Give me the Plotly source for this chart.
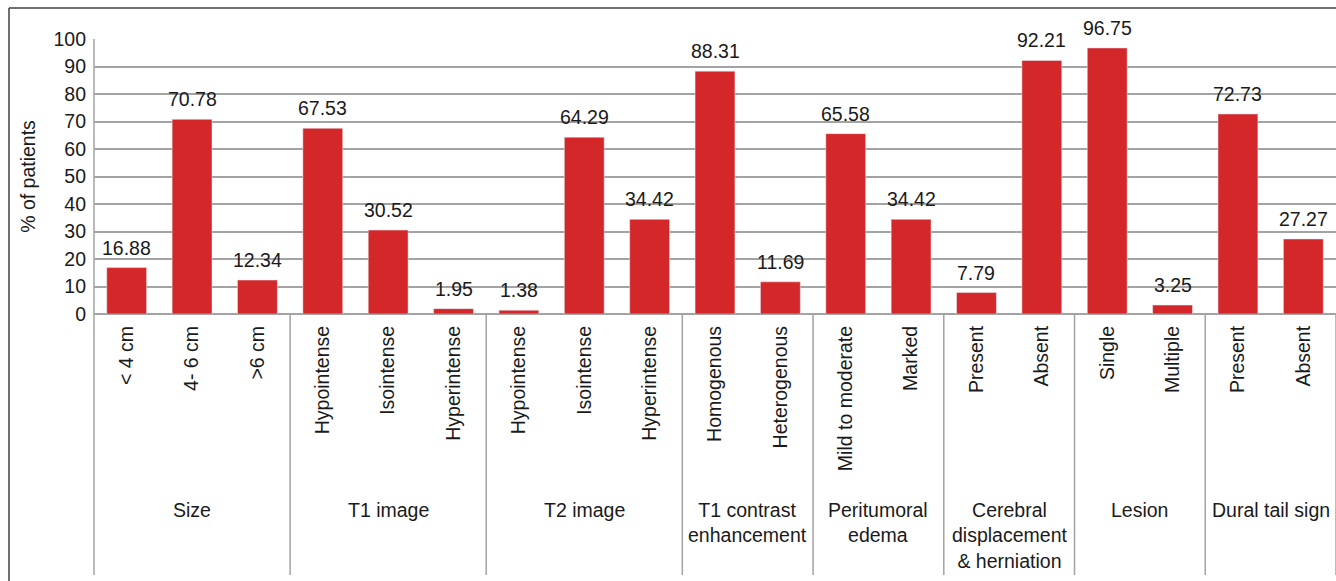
import plotly.graph_objects as go

groups = ["Size", "T1 image", "T2 image", "T1 contrast<br>enhancement",
          "Peritumoral<br>edema", "Cerebral<br>displacement<br>& herniation",
          "Lesion", "Dural tail sign"]
group_sizes = [3, 3, 3, 2, 2, 2, 2, 2]
sub_labels = ["< 4 cm", "4- 6 cm", ">6 cm",
              "Hypointense", "Isointense", "Hyperintense",
              "Hypointense", "Isointense", "Hyperintense",
              "Homogenous", "Heterogenous",
              "Mild to moderate", "Marked",
              "Present", "Absent",
              "Single", "Multiple",
              "Present", "Absent"]
values = [16.88, 70.78, 12.34,
          67.53, 30.52, 1.95,
          1.38, 64.29, 34.42,
          88.31, 11.69,
          65.58, 34.42,
          7.79, 92.21,
          96.75, 3.25,
          72.73, 27.27]
y_ticks = list(range(0, 101, 10))

W, H = 1336, 581
L, T, B = 94, 39, 267
plot_w = W - L
plot_h = H - T - B

def px_x(p):
    return (p - L) / plot_w

def px_y(p):
    return (H - B - p) / plot_h

FONT = "Liberation Sans, Arial, sans-serif"
FS = 19.5
RED = "#D4272A"
GRID = "#A3A3A3"
TXT = "#1a1a1a"

xs = list(range(len(values)))
fig = go.Figure(go.Bar(
    x=xs, y=values, marker_color=RED, width=0.61,
    cliponaxis=False, hoverinfo="skip",
))

shapes = []
annotations = []
for i, v in zip(xs, values):
    annotations.append(dict(x=i, y=v, xref="x", yref="y", yanchor="bottom",
                            yshift=7, text=f"{v:.2f}", showarrow=False,
                            font=dict(size=FS, color=TXT, family=FONT)))

bottom = px_y(575)
shapes.append(dict(type="line", xref="paper", yref="paper", x0=0, x1=0,
                   y0=1, y1=bottom, line=dict(color=GRID, width=1.5)))
start = 0
for g, n in zip(groups, group_sizes):
    end = start + n
    shapes.append(dict(type="line", xref="x", yref="paper",
                       x0=end - 0.5, x1=end - 0.5, y0=0, y1=bottom,
                       line=dict(color=GRID, width=1.5)))
    annotations.append(dict(x=(start + end - 1) / 2, xref="x",
                            y=px_y(497), yref="paper", yanchor="top",
                            text=g, showarrow=False,
                            font=dict(size=FS, color=TXT, family=FONT)))
    start = end

shapes.append(dict(type="line", xref="paper", yref="paper",
                   x0=px_x(9), x1=px_x(1340), y0=px_y(8), y1=px_y(8),
                   line=dict(color="#404040", width=1.5)))
shapes.append(dict(type="line", xref="paper", yref="paper",
                   x0=px_x(9), x1=px_x(9), y0=px_y(8), y1=px_y(590),
                   line=dict(color="#404040", width=1.5)))

fig.update_layout(
    width=W, height=H,
    margin=dict(l=L, r=0, t=T, b=B, pad=0),
    plot_bgcolor="white", paper_bgcolor="white",
    showlegend=False,
    font=dict(family=FONT, size=FS, color=TXT),
    shapes=shapes, annotations=annotations,
    xaxis=dict(range=[-0.5, len(values) - 0.5], tickmode="array",
               tickvals=xs, ticktext=sub_labels, tickangle=-90,
               showgrid=False, zeroline=False, showline=False, ticks="",
               ticklabelstandoff=7,
               tickfont=dict(size=FS, family=FONT, color=TXT),
               fixedrange=True),
    yaxis=dict(range=[0, 100], tickmode="array", tickvals=y_ticks,
               showgrid=True, gridcolor=GRID, gridwidth=1.5,
               zeroline=True, zerolinecolor=GRID, zerolinewidth=1.5,
               showline=False, ticks="", ticklabelstandoff=7,
               tickfont=dict(size=FS, family=FONT, color=TXT),
               title=dict(text="% of patients", standoff=12,
                          font=dict(size=FS, family=FONT, color=TXT)),
               fixedrange=True),
)

fig.write_html("out.html", config={"displayModeBar": False},
               post_script="document.body.style.margin='0';"
                           "document.body.style.overflow='hidden';")
